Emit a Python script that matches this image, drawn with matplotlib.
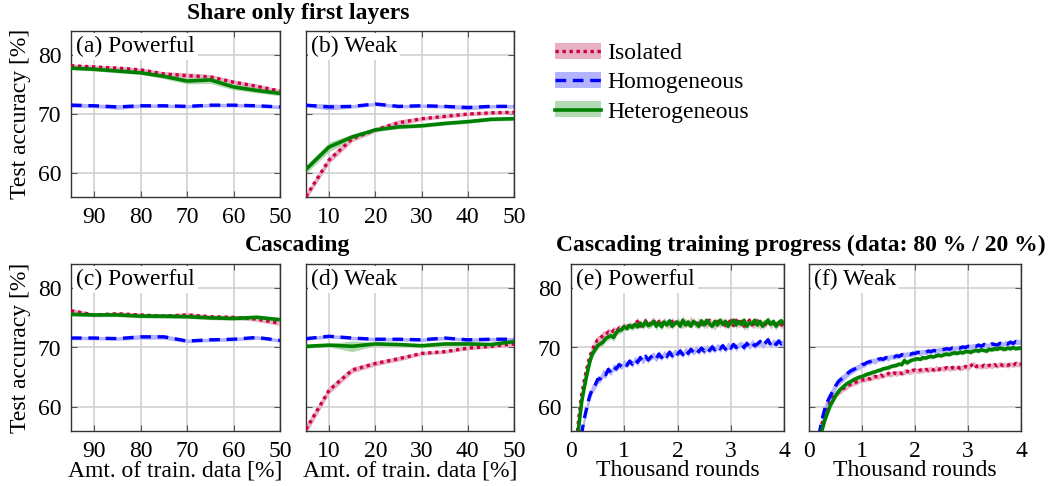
import numpy as np
import matplotlib.pyplot as plt
from matplotlib.patches import Patch
from matplotlib.lines import Line2D
from matplotlib.legend_handler import HandlerTuple

plt.rcParams['font.family'] = ['Liberation Serif', 'DejaVu Serif']
plt.rcParams['font.size'] = 17

# ---- data: share of train data (x) ----
x_pow = [95, 90, 85, 80, 75, 70, 65, 60, 55, 50]
x_weak = [5, 10, 15, 20, 25, 30, 35, 40, 45, 50]

# (a) share only first layers, powerful
a_iso = [78.2, 78.0, 77.8, 77.5, 76.8, 76.5, 76.3, 75.4, 74.7, 73.9]
a_iso_sd = [0.3, 0.3, 0.3, 0.3, 0.4, 0.5, 0.4, 0.4, 0.4, 0.3]
a_hom = [71.5, 71.4, 71.2, 71.4, 71.4, 71.3, 71.5, 71.5, 71.4, 71.2]
a_hom_sd = [0.4, 0.3, 0.4, 0.3, 0.3, 0.3, 0.3, 0.3, 0.3, 0.3]
a_het = [77.8, 77.6, 77.3, 77.0, 76.4, 75.6, 75.8, 74.6, 74.0, 73.5]
a_het_sd = [0.3, 0.3, 0.3, 0.3, 0.4, 0.5, 0.6, 0.5, 0.4, 0.4]

# (b) share only first layers, weak
b_iso = [56.0, 62.2, 65.8, 67.3, 68.5, 69.2, 69.6, 70.0, 70.2, 70.3]
b_iso_sd = [0.6, 0.6, 0.5, 0.4, 0.5, 0.3, 0.3, 0.3, 0.3, 0.3]
b_hom = [71.5, 71.2, 71.3, 71.7, 71.3, 71.4, 71.3, 71.1, 71.3, 71.3]
b_hom_sd = [0.3, 0.5, 0.3, 0.3, 0.3, 0.3, 0.3, 0.4, 0.3, 0.3]
b_het = [60.6, 64.4, 66.1, 67.3, 67.8, 68.0, 68.4, 68.7, 69.1, 69.2]
b_het_sd = [0.7, 0.8, 0.5, 0.3, 0.3, 0.3, 0.3, 0.3, 0.3, 0.3]

# (c) cascading, powerful
c_iso = [76.2, 75.5, 75.7, 75.5, 75.3, 75.5, 75.2, 75.1, 74.8, 74.1]
c_iso_sd = [0.4, 0.3, 0.3, 0.3, 0.3, 0.4, 0.3, 0.3, 0.4, 0.4]
c_hom = [71.6, 71.6, 71.5, 71.8, 71.8, 71.1, 71.3, 71.4, 71.7, 71.2]
c_hom_sd = [0.3, 0.3, 0.3, 0.4, 0.4, 0.3, 0.3, 0.3, 0.3, 0.3]
c_het = [75.6, 75.5, 75.5, 75.3, 75.3, 75.2, 75.0, 74.9, 75.1, 74.7]
c_het_sd = [0.3, 0.3, 0.3, 0.3, 0.4, 0.3, 0.3, 0.3, 0.4, 0.3]

# (d) cascading, weak
d_iso = [56.2, 62.8, 66.2, 67.3, 68.1, 69.0, 69.3, 69.9, 70.2, 70.6]
d_iso_sd = [0.8, 0.6, 0.5, 0.4, 0.4, 0.3, 0.3, 0.3, 0.3, 0.4]
d_hom = [71.5, 71.9, 71.6, 71.4, 71.4, 71.3, 71.6, 71.3, 71.4, 71.4]
d_hom_sd = [0.3, 0.3, 0.3, 0.3, 0.3, 0.3, 0.3, 0.3, 0.3, 0.3]
d_het = [70.2, 70.4, 70.2, 70.6, 70.5, 70.3, 70.6, 70.6, 70.5, 71.0]
d_het_sd = [0.3, 0.3, 0.9, 0.3, 0.3, 0.3, 0.3, 0.3, 0.3, 0.3]

# ---- training progress (thousand rounds), 0.05 steps ----
rounds = np.round(np.arange(0, 4.001, 0.05), 2)

e_iso = [35.0, 45.0, 53.5, 58.5, 62.0, 64.5, 66.6, 68.4, 69.6, 70.6,
         71.3, 71.5, 72.1, 72.2, 72.6, 72.4, 72.9, 72.7, 73.3, 73.1,
         73.6, 73.3, 74.0, 73.5, 74.1, 74.4, 73.6, 74.2, 74.5, 73.7,
         74.3, 74.6, 73.8, 74.4, 73.9, 74.5, 74.1, 73.7, 74.4, 73.9,
         74.6, 74.0, 73.6, 74.4, 73.9, 74.6, 74.1, 73.7, 74.5, 73.9,
         74.4, 73.7, 74.6, 74.0, 73.6, 74.4, 73.9, 74.6, 73.7, 74.2,
         74.5, 73.7, 74.6, 73.9, 74.4, 73.6, 74.2, 74.6, 73.8, 74.1,
         74.5, 73.6, 74.3, 73.9, 74.6, 73.7, 74.2, 73.6, 74.4, 73.8,
         73.9]
e_iso_sd = [1.0, 1.0, 1.0, 0.9, 0.9, 0.9, 0.8, 0.8, 0.8, 0.7,
            0.7, 0.6, 0.7, 0.6, 0.7, 0.6, 0.7, 0.5, 0.6, 0.5,
            0.6, 0.5, 0.4, 0.6, 0.5, 0.7, 0.4, 0.5, 0.6, 0.4,
            0.5, 0.6, 0.4, 0.7, 0.5, 0.6, 0.4, 0.5, 0.7, 0.4,
            0.6, 0.5, 0.4, 0.6, 0.5, 0.7, 0.4, 0.5, 0.6, 0.4,
            0.5, 0.6, 0.5, 0.4, 0.7, 0.5, 0.6, 0.4, 0.6, 0.5,
            0.7, 0.4, 0.5, 0.6, 0.5, 0.7, 0.4, 0.6, 0.5, 0.8,
            0.5, 0.6, 0.4, 0.7, 0.5, 0.6, 0.5, 0.7, 0.4, 0.6,
            0.5]
e_hom = [30.0, 38.0, 45.0, 51.0, 55.5, 58.0, 60.0, 61.8, 63.0, 63.6,
         64.6, 64.7, 65.6, 65.4, 66.3, 65.8, 66.7, 66.4, 67.1, 66.8,
         67.4, 67.0, 67.7, 67.2, 68.0, 67.5, 68.3, 67.7, 68.5, 67.9,
         68.4, 68.7, 68.1, 68.9, 68.3, 69.0, 68.5, 69.2, 68.6, 69.3,
         68.9, 69.4, 68.8, 69.6, 69.0, 69.7, 69.2, 69.8, 69.3, 69.9,
         69.4, 70.0, 69.5, 70.1, 69.6, 70.2, 69.8, 70.3, 69.7, 70.4,
         69.9, 70.5, 70.0, 70.4, 70.6, 70.0, 70.7, 70.2, 70.8, 70.3,
         70.6, 71.0, 70.3, 70.8, 71.3, 70.4, 71.0, 70.5, 71.1, 70.6,
         70.8]
e_hom_sd = [1.0, 1.0, 1.0, 1.0, 0.9, 0.9, 0.9, 0.8, 0.8, 0.7,
            0.7, 0.6, 0.7, 0.6, 0.6, 0.5, 0.6, 0.5, 0.6, 0.5,
            0.6, 0.5, 0.5, 0.6, 0.5, 0.6, 0.5, 0.5, 0.6, 0.5,
            0.5, 0.6, 0.5, 0.6, 0.5, 0.5, 0.6, 0.5, 0.6, 0.5,
            0.5, 0.6, 0.5, 0.5, 0.6, 0.5, 0.5, 0.6, 0.5, 0.5,
            0.6, 0.5, 0.5, 0.6, 0.5, 0.5, 0.6, 0.5, 0.5, 0.6,
            0.5, 0.5, 0.6, 0.5, 0.5, 0.6, 0.5, 0.5, 0.6, 0.5,
            0.5, 0.6, 0.5, 0.5, 0.6, 0.5, 0.5, 0.6, 0.5, 0.5,
            0.6]
e_het = [33.0, 43.0, 52.0, 57.0, 60.8, 63.3, 65.5, 67.5, 68.9, 69.6,
         70.3, 70.6, 70.9, 71.5, 71.8, 72.0, 71.7, 72.5, 72.9, 73.0,
         73.5, 73.2, 73.7, 73.4, 73.9, 73.5, 74.1, 73.6, 74.3, 73.7,
         73.9, 74.4, 73.6, 74.2, 73.5, 74.3, 73.8, 74.5, 73.6, 74.1,
         74.3, 73.6, 74.6, 73.8, 74.3, 73.6, 74.4, 74.0, 73.6, 74.5,
         73.8, 74.6, 74.0, 73.6, 74.4, 73.8, 74.6, 73.9, 74.4, 73.6,
         74.2, 74.6, 73.8, 74.4, 73.9, 74.6, 73.6, 74.2, 74.0, 74.6,
         73.8, 74.4, 73.6, 74.2, 74.6, 73.9, 74.4, 73.6, 74.2, 74.5,
         74.0]
e_het_sd = [1.0, 1.0, 1.0, 0.9, 0.8, 0.8, 0.7, 0.7, 0.6, 0.6,
            0.6, 0.5, 0.6, 0.5, 0.6, 0.5, 0.7, 0.5, 0.6, 0.5,
            0.6, 0.4, 0.6, 0.5, 0.7, 0.4, 0.6, 0.5, 0.8, 0.5,
            0.6, 0.5, 0.7, 0.4, 0.6, 0.5, 0.7, 0.5, 0.6, 0.4,
            0.7, 0.5, 0.8, 0.5, 0.6, 0.4, 0.7, 0.5, 0.6, 0.5,
            0.7, 0.4, 0.6, 0.5, 0.7, 0.5, 0.6, 0.4, 0.7, 0.5,
            0.6, 0.5, 0.7, 0.4, 0.6, 0.5, 0.7, 0.5, 0.6, 0.4,
            0.7, 0.5, 0.6, 0.5, 0.7, 0.4, 0.6, 0.5, 0.7, 0.5,
            0.6]

f_iso = [32.0, 40.0, 46.0, 51.0, 54.8, 57.3, 58.8, 60.0, 60.8, 61.6,
         62.0, 62.4, 62.8, 63.1, 63.3, 63.6, 63.9, 64.0, 64.2, 64.4,
         64.5, 64.6, 64.8, 64.7, 65.0, 65.1, 65.0, 65.3, 65.2, 65.5,
         65.6, 65.4, 65.7, 65.6, 65.8, 65.6, 65.9, 66.0, 65.8, 66.1,
         66.2, 66.0, 66.2, 66.1, 66.3, 66.2, 66.4, 66.2, 66.5, 66.3,
         66.5, 66.4, 66.6, 66.4, 66.6, 66.5, 66.7, 66.5, 66.6, 66.8,
         66.6, 66.9, 67.3, 66.8, 66.9, 66.7, 67.0, 66.8, 67.0, 66.9,
         67.1, 66.9, 67.2, 67.0, 67.1, 67.0, 67.2, 67.0, 67.3, 67.1,
         67.2]
f_iso_sd = [1.0, 1.0, 1.0, 0.9, 0.8, 0.8, 0.7, 0.7, 0.6, 0.6,
            0.5, 0.5, 0.6, 0.5, 0.5, 0.4, 0.5, 0.4, 0.5, 0.4,
            0.4, 0.5, 0.4, 0.4, 0.5, 0.4, 0.4, 0.5, 0.4, 0.4,
            0.5, 0.4, 0.4, 0.5, 0.4, 0.4, 0.5, 0.4, 0.4, 0.5,
            0.4, 0.4, 0.5, 0.4, 0.4, 0.5, 0.4, 0.4, 0.5, 0.4,
            0.4, 0.5, 0.4, 0.4, 0.5, 0.4, 0.4, 0.5, 0.4, 0.4,
            0.5, 0.4, 0.4, 0.5, 0.4, 0.4, 0.5, 0.4, 0.4, 0.5,
            0.4, 0.4, 0.5, 0.4, 0.4, 0.5, 0.4, 0.4, 0.5, 0.4,
            0.5]
f_hom = [35.0, 42.0, 48.0, 52.5, 55.8, 58.0, 59.7, 60.9, 61.8, 62.6,
         63.5, 64.2, 64.6, 64.9, 65.4, 65.8, 66.1, 66.3, 66.6, 66.8,
         67.1, 67.2, 67.5, 67.6, 67.8, 67.7, 68.0, 68.1, 68.0, 68.3,
         68.2, 68.5, 68.4, 68.6, 68.5, 68.8, 68.7, 68.9, 68.8, 69.0,
         69.0, 69.2, 69.1, 69.3, 69.2, 69.4, 69.3, 69.5, 69.4, 69.6,
         69.6, 69.7, 69.8, 69.7, 69.9, 69.8, 70.0, 69.9, 70.1, 70.0,
         70.2, 70.1, 70.3, 70.2, 70.4, 70.2, 70.5, 70.3, 70.4, 70.6,
         70.5, 70.4, 70.7, 70.5, 70.8, 70.6, 70.9, 70.7, 71.0, 70.9,
         71.0]
f_hom_sd = [1.0, 1.0, 1.0, 1.0, 0.9, 0.9, 0.9, 0.8, 0.8, 0.8,
            0.7, 0.7, 0.7, 0.6, 0.6, 0.6, 0.6, 0.5, 0.5, 0.5,
            0.5, 0.5, 0.4, 0.5, 0.4, 0.5, 0.4, 0.5, 0.4, 0.4,
            0.5, 0.4, 0.4, 0.5, 0.4, 0.4, 0.5, 0.4, 0.4, 0.5,
            0.4, 0.4, 0.5, 0.4, 0.4, 0.5, 0.4, 0.4, 0.5, 0.4,
            0.4, 0.5, 0.4, 0.4, 0.5, 0.4, 0.4, 0.5, 0.4, 0.4,
            0.5, 0.4, 0.4, 0.5, 0.4, 0.4, 0.5, 0.4, 0.4, 0.5,
            0.4, 0.4, 0.5, 0.4, 0.4, 0.5, 0.4, 0.4, 0.5, 0.4,
            0.5]
f_het = [30.0, 38.0, 45.0, 50.0, 53.8, 56.2, 57.8, 59.0, 60.2, 61.0,
         61.8, 62.5, 63.0, 63.4, 63.8, 64.1, 64.3, 64.6, 64.8, 65.0,
         65.1, 65.3, 65.5, 65.6, 65.8, 65.9, 66.1, 66.2, 66.4, 66.5,
         66.6, 66.8, 66.9, 67.0, 67.2, 67.1, 67.8, 67.4, 67.7, 67.9,
         68.0, 68.1, 68.0, 68.3, 68.2, 68.4, 68.5, 68.4, 68.6, 68.7,
         68.6, 68.8, 68.9, 68.8, 69.0, 69.1, 69.0, 69.2, 69.1, 69.3,
         69.3, 69.2, 69.4, 69.5, 69.4, 69.6, 69.5, 69.4, 69.7, 69.6,
         69.8, 69.7, 69.9, 69.8, 69.7, 69.9, 69.8, 70.0, 69.8, 69.9,
         69.9]
f_het_sd = [1.0, 1.0, 1.0, 0.9, 0.8, 0.7, 0.7, 0.6, 0.6, 0.5,
            0.5, 0.5, 0.4, 0.4, 0.4, 0.4, 0.4, 0.3, 0.4, 0.3,
            0.3, 0.4, 0.3, 0.3, 0.4, 0.3, 0.3, 0.4, 0.3, 0.3,
            0.4, 0.3, 0.3, 0.4, 0.3, 0.3, 0.5, 0.4, 0.3, 0.3,
            0.4, 0.3, 0.3, 0.4, 0.3, 0.3, 0.4, 0.3, 0.3, 0.4,
            0.3, 0.3, 0.4, 0.3, 0.3, 0.4, 0.3, 0.3, 0.4, 0.3,
            0.3, 0.4, 0.3, 0.3, 0.4, 0.3, 0.3, 0.4, 0.3, 0.3,
            0.4, 0.3, 0.3, 0.5, 0.3, 0.3, 0.4, 0.3, 0.3, 0.4,
            0.3]

names = ['Isolated', 'Homogeneous', 'Heterogeneous']
colors = ['#cc0044', '#0000ff', '#008000']
fills = ['#e8b0c2', '#b3b3ff', '#b3d9b3']
styles = [dict(ls=(0, (1, 1.1)), lw=2.4),
          dict(ls=(0, (3.2, 2.0)), lw=2.4),
          dict(ls='-', lw=2.6)]


def draw(ax, x, series, label, xlim, xticks):
    x = np.asarray(x)
    for (m, s), c, fc, st in zip(series, colors, fills, styles):
        m = np.asarray(m)
        s = np.asarray(s)
        ax.fill_between(x, m - s, m + s, color=fc, lw=0, zorder=2)
        ax.plot(x, m, color=c, zorder=3, **st)
    ax.set_xlim(*xlim)
    ax.set_ylim(55.9, 84.1)
    ax.set_xticks(xticks)
    ax.set_yticks([60, 70, 80])
    ax.grid(True, color='#cdcdcd', lw=1.1, zorder=0)
    ax.set_axisbelow(True)
    ax.tick_params(direction='in', length=4, width=0.8, color='#555555',
                   top=True, right=True, pad=7)
    for sp in ax.spines.values():
        sp.set_color('#333333')
        sp.set_linewidth(1.0)
    ax.text(0.025, 0.97, label, transform=ax.transAxes, va='top', ha='left',
            zorder=5, bbox=dict(fc='white', ec='none', pad=2.0))


fig = plt.figure(figsize=(10.51, 4.86), dpi=100)
W, H = 1051, 486


def box(l, r, t, b):
    return [l / W, 1 - b / H, (r - l) / W, (b - t) / H]


ax_a = fig.add_axes(box(71, 280, 31, 197))
ax_b = fig.add_axes(box(306, 514, 31, 197))
ax_c = fig.add_axes(box(71, 280, 264, 431))
ax_d = fig.add_axes(box(306, 514, 264, 431))
ax_e = fig.add_axes(box(571, 784, 264, 431))
ax_f = fig.add_axes(box(809, 1021, 264, 431))

draw(ax_a, x_pow, [(a_iso, a_iso_sd), (a_hom, a_hom_sd), (a_het, a_het_sd)],
     '(a) Powerful', (95, 50), [90, 80, 70, 60, 50])
draw(ax_b, x_weak, [(b_iso, b_iso_sd), (b_hom, b_hom_sd), (b_het, b_het_sd)],
     '(b) Weak', (5, 50), [10, 20, 30, 40, 50])
draw(ax_c, x_pow, [(c_iso, c_iso_sd), (c_hom, c_hom_sd), (c_het, c_het_sd)],
     '(c) Powerful', (95, 50), [90, 80, 70, 60, 50])
draw(ax_d, x_weak, [(d_iso, d_iso_sd), (d_hom, d_hom_sd), (d_het, d_het_sd)],
     '(d) Weak', (5, 50), [10, 20, 30, 40, 50])
draw(ax_e, rounds, [(e_iso, e_iso_sd), (e_hom, e_hom_sd), (e_het, e_het_sd)],
     '(e) Powerful', (0, 4), [0, 1, 2, 3, 4])
draw(ax_f, rounds, [(f_iso, f_iso_sd), (f_hom, f_hom_sd), (f_het, f_het_sd)],
     '(f) Weak', (0, 4), [0, 1, 2, 3, 4])

for ax in (ax_b, ax_d, ax_f):
    ax.tick_params(labelleft=False)
for ax in (ax_a, ax_c):
    ax.set_ylabel('Test accuracy [%]', labelpad=5)
for ax in (ax_c, ax_d):
    ax.set_xlabel('Amt. of train. data [%]', labelpad=-1)
for ax in (ax_e, ax_f):
    ax.set_xlabel('Thousand rounds', labelpad=-1)

fig.text(298 / W, 1 - 13 / H, 'Share only first layers', ha='center',
         va='center', fontweight='bold')
fig.text(298 / W, 1 - 245 / H, 'Cascading', ha='center', va='center',
         fontweight='bold')
fig.text(801 / W, 1 - 245 / H, 'Cascading training progress (data: 80 % / 20 %)',
         ha='center', va='center', fontweight='bold')

handles = []
for c, fc, st in zip(colors, fills, styles):
    handles.append((Patch(fc=fc, ec='none'), Line2D([], [], color=c, **st)))
fig.legend(handles, names, handler_map={tuple: HandlerTuple(ndivide=1)},
           loc='upper left', bbox_to_anchor=(555 / W, 1 - 43 / H),
           frameon=False, handlelength=1.95, handleheight=0.64,
           handletextpad=0.25, labelspacing=0.345, borderpad=0,
           borderaxespad=0)

fig.savefig('out.png', dpi=100)
